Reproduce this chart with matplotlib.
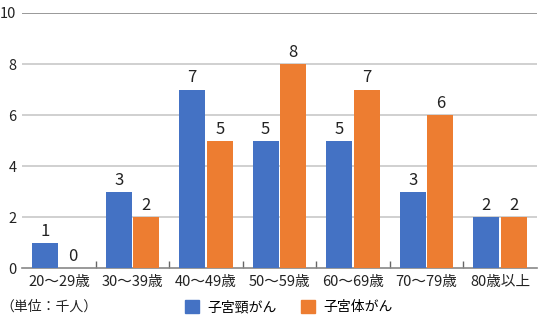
import matplotlib
matplotlib.use("Agg")
import matplotlib.pyplot as plt
import numpy as np
from matplotlib.patches import Rectangle

plt.rcParams['font.family'] = ['Noto Sans CJK JP', 'DejaVu Sans']

categories = ["20〜29歳", "30〜39歳", "40〜49歳", "50〜59歳", "60〜69歳", "70〜79歳", "80歳以上"]
cervical = [1, 3, 7, 5, 5, 3, 2]
uterine = [0, 2, 5, 8, 7, 6, 2]
series_names = ["子宮頸がん", "子宮体がん"]
colors = ["#4472C4", "#ED7D31"]
yticks = [0, 2, 4, 6, 8, 10]

fig = plt.figure(figsize=(5.4, 3.25), dpi=100)
ax = fig.add_axes([0.041, 0.175, 0.953, 0.785])

x = np.arange(len(categories))
w = 0.355
gap = 0.02
for vals, off, c in [(cervical, -(w + gap) / 2, colors[0]), (uterine, (w + gap) / 2, colors[1])]:
    bars = ax.bar(x + off, vals, width=w, color=c, zorder=3)
    for b, v in zip(bars, vals):
        ax.text(b.get_x() + b.get_width() / 2, v + 0.12, str(v), ha='center', va='bottom',
                fontsize=12, color='#222222', zorder=4)

ax.set_xlim(-0.5, len(categories) - 0.5)
ax.set_ylim(0, 10)
ax.set_yticks(yticks)
ax.set_yticklabels([str(t) for t in yticks], fontsize=10.5, color='#222222')
for t in yticks[1:-1]:
    ax.axhline(t, color='#c8c8c8', lw=1.2, zorder=1)
ax.axhline(10, color='#888888', lw=1.2, zorder=1)
ax.tick_params(axis='y', length=0, pad=4)

ax.set_xticks(x)
ax.set_xticklabels(categories, fontsize=10.5, color='#222222')
ax.tick_params(axis='x', length=0, pad=5)
ax.set_xticks(np.arange(0.5, len(categories) - 1, 1), minor=True)
ax.tick_params(axis='x', which='minor', length=5, direction='in', color='#666666', width=1)

for s in ['top', 'right', 'left']:
    ax.spines[s].set_visible(False)
ax.spines['bottom'].set_color('#888888')
ax.spines['bottom'].set_linewidth(1.2)

fig.text(0.0, 0.055, "（単位：千人）", fontsize=10, color='#222222', va='center', ha='left')
handles = [Rectangle((0, 0), 1, 1, color=c) for c in colors]
fig.legend(handles, series_names, loc='center', bbox_to_anchor=(0.535, 0.055), ncol=2, frameon=False,
           fontsize=10, handlelength=1.0, handleheight=1.0, columnspacing=1.8, handletextpad=0.6)

fig.savefig("out.png", dpi=100)
